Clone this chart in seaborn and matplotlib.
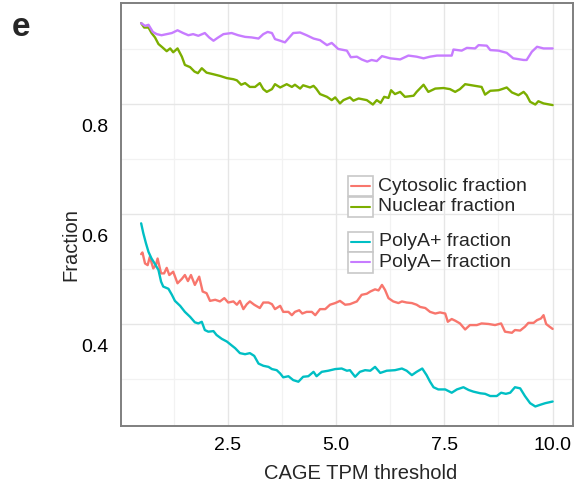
import matplotlib
matplotlib.use("Agg")
import matplotlib.pyplot as plt
import matplotlib.patches as mpatches
import matplotlib.lines as mlines
import numpy as np
import pandas as pd
import seaborn as sns

# ---- data: fraction of CAGE clusters vs. TPM threshold ----
cyto_x = [0.50, 0.53, 0.59, 0.65, 0.70, 0.78, 0.84, 0.88, 0.96, 1.03, 1.09, 1.15, 1.24,
          1.34, 1.44, 1.51, 1.58, 1.65, 1.74, 1.84, 1.92, 2.01, 2.09, 2.21, 2.32, 2.42,
          2.51, 2.63, 2.71, 2.78, 2.86, 2.94, 3.01, 3.11, 3.24, 3.32, 3.44, 3.52, 3.59,
          3.71, 3.78, 3.90, 3.98, 4.05, 4.15, 4.22, 4.32, 4.44, 4.52, 4.63, 4.75, 4.86,
          4.98, 5.09, 5.21, 5.32, 5.48, 5.59, 5.71, 5.79, 5.90, 5.98, 6.06, 6.13, 6.21,
          6.32, 6.44, 6.52, 6.63, 6.75, 6.86, 6.94, 7.06, 7.17, 7.29, 7.40, 7.52, 7.58,
          7.67, 7.75, 7.86, 7.98, 8.09, 8.25, 8.36, 8.52, 8.67, 8.81, 8.90, 9.06, 9.13,
          9.25, 9.36, 9.44, 9.56, 9.64, 9.73, 9.79, 9.85, 9.93, 10.00]
cyto_y = [0.567, 0.570, 0.550, 0.547, 0.562, 0.541, 0.547, 0.559, 0.532, 0.532, 0.542,
          0.529, 0.535, 0.514, 0.522, 0.529, 0.518, 0.529, 0.511, 0.526, 0.499, 0.496,
          0.482, 0.484, 0.481, 0.487, 0.479, 0.481, 0.475, 0.482, 0.467, 0.476, 0.481,
          0.475, 0.469, 0.479, 0.479, 0.476, 0.467, 0.473, 0.462, 0.462, 0.456, 0.462,
          0.465, 0.459, 0.462, 0.462, 0.456, 0.467, 0.467, 0.475, 0.478, 0.482, 0.475,
          0.476, 0.481, 0.493, 0.495, 0.499, 0.503, 0.501, 0.511, 0.502, 0.487, 0.481,
          0.478, 0.481, 0.479, 0.478, 0.475, 0.471, 0.469, 0.462, 0.459, 0.461, 0.459,
          0.444, 0.449, 0.446, 0.441, 0.430, 0.438, 0.438, 0.441, 0.440, 0.438, 0.441,
          0.426, 0.424, 0.429, 0.428, 0.435, 0.442, 0.442, 0.447, 0.450, 0.456, 0.440,
          0.435, 0.431]

nuc_x = [0.50, 0.57, 0.67, 0.74, 0.82, 0.90, 0.99, 1.09, 1.17, 1.24, 1.34, 1.44, 1.51,
         1.63, 1.73, 1.81, 1.90, 2.01, 2.17, 2.32, 2.48, 2.63, 2.71, 2.81, 2.90, 3.01,
         3.13, 3.24, 3.32, 3.40, 3.52, 3.59, 3.71, 3.86, 3.98, 4.05, 4.17, 4.24, 4.40,
         4.48, 4.54, 4.63, 4.79, 4.90, 4.98, 5.09, 5.17, 5.32, 5.40, 5.52, 5.71, 5.85,
         5.94, 6.03, 6.11, 6.21, 6.27, 6.36, 6.48, 6.59, 6.79, 6.86, 7.02, 7.13, 7.29,
         7.48, 7.63, 7.75, 7.86, 7.98, 8.13, 8.36, 8.44, 8.56, 8.75, 8.83, 8.94, 9.06,
         9.21, 9.33, 9.40, 9.48, 9.60, 9.67, 9.79, 10.00]
nuc_y = [0.987, 0.979, 0.979, 0.969, 0.961, 0.949, 0.943, 0.936, 0.941, 0.934, 0.941,
         0.926, 0.911, 0.907, 0.899, 0.896, 0.905, 0.897, 0.894, 0.891, 0.887, 0.885,
         0.883, 0.875, 0.878, 0.871, 0.871, 0.878, 0.867, 0.862, 0.867, 0.876, 0.870,
         0.876, 0.871, 0.875, 0.868, 0.874, 0.870, 0.873, 0.868, 0.858, 0.853, 0.847,
         0.852, 0.841, 0.847, 0.852, 0.846, 0.850, 0.847, 0.839, 0.847, 0.842, 0.853,
         0.851, 0.865, 0.858, 0.862, 0.853, 0.855, 0.862, 0.875, 0.862, 0.868, 0.869,
         0.867, 0.862, 0.867, 0.876, 0.874, 0.871, 0.857, 0.864, 0.865, 0.867, 0.870,
         0.861, 0.856, 0.862, 0.856, 0.844, 0.839, 0.845, 0.841, 0.838]

polya_pos_x = [0.50, 0.55, 0.61, 0.67, 0.74, 0.82, 0.90, 0.96, 1.01, 1.13, 1.21, 1.28,
               1.40, 1.51, 1.63, 1.74, 1.82, 1.90, 1.97, 2.05, 2.17, 2.24, 2.36, 2.48,
               2.59, 2.67, 2.78, 2.90, 3.01, 3.11, 3.21, 3.32, 3.44, 3.52, 3.63, 3.71,
               3.78, 3.90, 4.01, 4.13, 4.24, 4.36, 4.48, 4.55, 4.67, 4.82, 4.98, 5.13,
               5.25, 5.32, 5.44, 5.55, 5.67, 5.79, 5.90, 6.02, 6.17, 6.36, 6.52, 6.63,
               6.75, 6.86, 6.99, 7.09, 7.17, 7.25, 7.36, 7.52, 7.67, 7.79, 7.94, 8.06,
               8.17, 8.33, 8.44, 8.56, 8.71, 8.81, 8.92, 9.02, 9.13, 9.25, 9.36, 9.48,
               9.60, 9.71, 9.83, 10.00]
polya_pos_y = [0.623, 0.605, 0.587, 0.571, 0.559, 0.549, 0.538, 0.517, 0.508, 0.504,
               0.493, 0.482, 0.473, 0.462, 0.453, 0.443, 0.441, 0.444, 0.429, 0.426,
               0.427, 0.420, 0.413, 0.408, 0.401, 0.396, 0.387, 0.385, 0.387, 0.382,
               0.368, 0.364, 0.362, 0.358, 0.356, 0.350, 0.343, 0.345, 0.338, 0.335,
               0.344, 0.345, 0.353, 0.345, 0.353, 0.355, 0.358, 0.359, 0.355, 0.356,
               0.344, 0.353, 0.356, 0.355, 0.362, 0.351, 0.355, 0.356, 0.359, 0.355,
               0.347, 0.353, 0.359, 0.347, 0.335, 0.325, 0.321, 0.321, 0.315, 0.321,
               0.325, 0.320, 0.317, 0.314, 0.313, 0.309, 0.309, 0.315, 0.313, 0.315,
               0.325, 0.323, 0.309, 0.296, 0.290, 0.293, 0.296, 0.299]

polya_neg_x = [0.50, 0.59, 0.67, 0.77, 0.86, 0.97, 1.09, 1.21, 1.34, 1.47, 1.59, 1.70,
               1.82, 1.97, 2.07, 2.17, 2.28, 2.40, 2.59, 2.74, 2.90, 3.05, 3.21, 3.32,
               3.42, 3.52, 3.59, 3.71, 3.82, 4.01, 4.17, 4.32, 4.48, 4.63, 4.79, 4.90,
               5.05, 5.25, 5.34, 5.48, 5.59, 5.72, 5.82, 5.94, 6.06, 6.25, 6.48, 6.67,
               6.86, 7.02, 7.17, 7.33, 7.67, 7.71, 7.90, 8.02, 8.21, 8.29, 8.48, 8.56,
               8.75, 8.94, 9.09, 9.33, 9.40, 9.52, 9.64, 9.79, 10.00]
polya_neg_y = [0.987, 0.982, 0.984, 0.971, 0.967, 0.965, 0.967, 0.969, 0.974, 0.969,
               0.965, 0.967, 0.964, 0.969, 0.961, 0.955, 0.961, 0.967, 0.969, 0.965,
               0.962, 0.961, 0.959, 0.967, 0.971, 0.969, 0.958, 0.955, 0.952, 0.969,
               0.970, 0.965, 0.959, 0.956, 0.947, 0.951, 0.940, 0.937, 0.925, 0.926,
               0.921, 0.917, 0.920, 0.918, 0.927, 0.923, 0.921, 0.928, 0.926, 0.923,
               0.926, 0.928, 0.928, 0.939, 0.937, 0.942, 0.941, 0.947, 0.946, 0.938,
               0.937, 0.933, 0.923, 0.920, 0.920, 0.935, 0.944, 0.941, 0.941]

series_names = ["Cytosolic fraction", "Nuclear fraction", "PolyA+ fraction", "PolyA\u2212 fraction"]
series_colors = ["#F8766D", "#7CAE00", "#00BFC4", "#C77CFF"]
legend_groups = [[0, 1], [2, 3]]

x_ticks = [2.5, 5.0, 7.5, 10.0]
y_ticks = [0.4, 0.6, 0.8]

# ---- long-format table ----
frames = []
for name, xs, ys in zip(series_names,
                        [cyto_x, nuc_x, polya_pos_x, polya_neg_x],
                        [cyto_y, nuc_y, polya_pos_y, polya_neg_y]):
    frames.append(pd.DataFrame({"threshold": xs, "fraction": ys, "series": name}))
df = pd.concat(frames, ignore_index=True)

sns.set_style("white")
plt.rcParams["font.family"] = ["Liberation Sans", "DejaVu Sans"]

W, H = 575, 483
fig = plt.figure(figsize=(W / 100, H / 100), dpi=100)

def fx(px):
    return px / W

def fy(py):
    return 1 - py / H

ax_l, ax_r, ax_t, ax_b = 120.7, 573.0, 3.0, 426.0
ax = fig.add_axes([fx(ax_l), fy(ax_b), fx(ax_r - ax_l), (ax_b - ax_t) / H])

# background grid (panel grid sits slightly above the labelled tick positions)
for gy in [0.34, 0.54, 0.74, 0.94]:
    ax.axhline(gy, color="#f2f2f2", lw=0.9, zorder=0)
for gx in [1.25, 3.75, 6.25, 8.75]:
    ax.axvline(gx, color="#f2f2f2", lw=0.9, zorder=0)
for gy in [0.44, 0.64, 0.84]:
    ax.axhline(gy, color="#e6e6e6", lw=1.0, zorder=0)
for gx in x_ticks:
    ax.axvline(gx, color="#e6e6e6", lw=1.0, zorder=0)

sns.lineplot(data=df, x="threshold", y="fraction", hue="series",
             hue_order=series_names, palette=series_colors,
             estimator=None, sort=False, linewidth=1.7, legend=False, ax=ax)

ax.set_xlim(0.028, 10.47)
ax.set_ylim(0.2545, 1.0236)
ax.set_xticks(x_ticks)
ax.set_xticklabels([f"{v:.1f}" for v in x_ticks])
ax.set_yticks(y_ticks)
ax.set_yticklabels([f"{v:.1f}" for v in y_ticks])
ax.tick_params(axis="both", which="major", labelsize=14, length=4, width=1.0,
               color="#333333", labelcolor="black", direction="out")
ax.tick_params(axis="x", pad=4)
ax.tick_params(axis="y", pad=5)
ax.grid(False)
for sp in ax.spines.values():
    sp.set_visible(True)
    sp.set_color("#7f7f7f")
    sp.set_linewidth(1.4)

ax.set_xlabel("CAGE TPM threshold", fontsize=14.5)
ax.set_ylabel("Fraction", fontsize=14.5)
ax.xaxis.set_label_coords((361 - ax_l) / (ax_r - ax_l), -0.09)
ax.yaxis.set_label_coords((80 - ax_l) / (ax_r - ax_l), (ax_b - 245) / (ax_b - ax_t))

# panel letter
fig.text(fx(21), fy(27), "e", fontsize=24, fontweight="bold", ha="center", va="center")

# legend: two boxed-key groups
key_w, key_h = 25.0, 20.5
key_x0 = 348.3
group_tops = [176.0, 231.5]
text_x = [377.7, 379.3]
for gi, members in enumerate(legend_groups):
    top = group_tops[gi]
    for k, idx in enumerate(members):
        y0 = top + k * key_h
        rect = mpatches.Rectangle((fx(key_x0), fy(y0 + key_h)), fx(key_w), key_h / H,
                                  transform=fig.transFigure, facecolor="white",
                                  edgecolor="#c8c8c8", lw=1.2, zorder=5)
        fig.patches.append(rect)
        yc = y0 + key_h / 2
        ln = mlines.Line2D([fx(key_x0 + 3), fx(key_x0 + key_w - 3)], [fy(yc), fy(yc)],
                           transform=fig.transFigure, color=series_colors[idx],
                           lw=1.5, zorder=6)
        fig.lines.append(ln)
        fig.text(fx(text_x[gi]), fy(yc), series_names[idx], fontsize=14,
                 ha="left", va="center", zorder=6)

fig.savefig("out.png", dpi=100)
